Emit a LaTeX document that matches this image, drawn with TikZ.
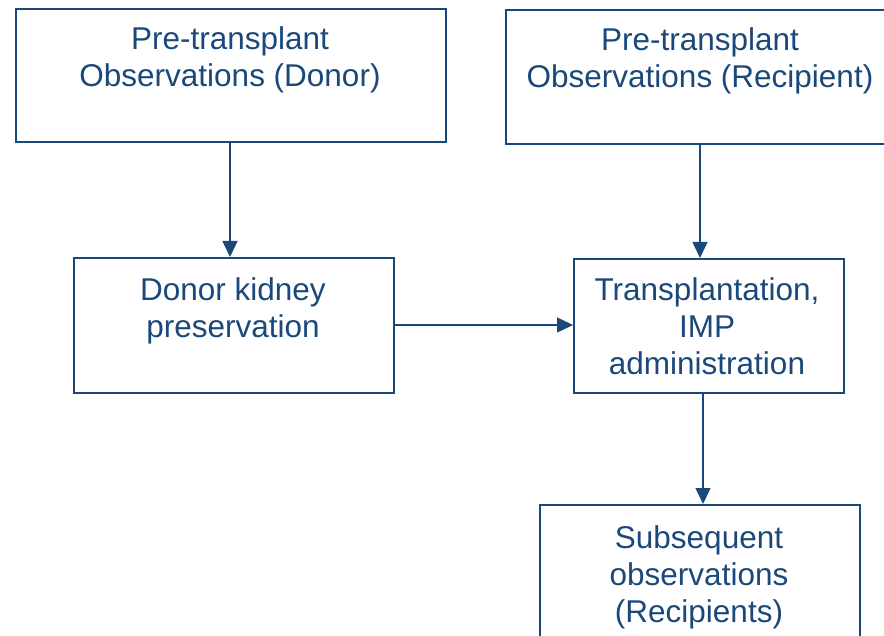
\documentclass[tikz,border=0pt]{standalone}
\usepackage{fontspec}
\setmainfont{Liberation Sans}
\usetikzlibrary{arrows.meta}
\definecolor{navy}{RGB}{27,72,122}
\tikzset{
  box/.style={draw=navy, line width=2pt, rectangle, inner sep=0pt, anchor=north west},
  lbl/.style={text=navy, font=\fontsize{31.5}{37}\selectfont, align=center, anchor=base, inner sep=0pt},
  conn/.style={draw=navy, line width=1.3pt, -{Triangle[length=16pt,width=15pt]}}
}
\begin{document}
\begin{tikzpicture}[x=1pt,y=-1pt]
\useasboundingbox (0,0) rectangle (884,636);
\clip (0,0) rectangle (884,636);
% boxes
\node[box, minimum width=430pt, minimum height=133pt] (b1) at (15,8) {};
\node[box, minimum width=390pt, minimum height=134pt] (b2) at (505,9) {};
\node[box, minimum width=320pt, minimum height=135pt] (b3) at (73,257) {};
\node[box, minimum width=270pt, minimum height=134pt] (b4) at (573,258) {};
\node[box, minimum width=320pt, minimum height=140pt] (b5) at (539,504) {};
% labels (anchored at the baseline of their last line)
\node[lbl] (t1) at (230,87) {Pre-transplant\\Observations (Donor)};
\node[lbl] (t2) at (700,88) {Pre-transplant\\Observations (Recipient)};
\node[lbl] (t3) at (233,338) {Donor kidney\\preservation};
\node[lbl] (t4) at (707,375) {Transplantation,\\IMP\\administration};
\node[lbl] (t5) at (699,622) {Subsequent\\observations\\(Recipients)};
% connectors
\draw[conn] (b1.south -| 230,0) -- (b3.north -| 230,0);
\draw[conn] (b2.south -| 700,0) -- (b4.north -| 700,0);
\draw[conn] (b3.east |- 0,325) -- (b4.west |- 0,325);
\draw[conn] (b4.south -| 703,0) -- (b5.north -| 703,0);
\end{tikzpicture}
\end{document}
